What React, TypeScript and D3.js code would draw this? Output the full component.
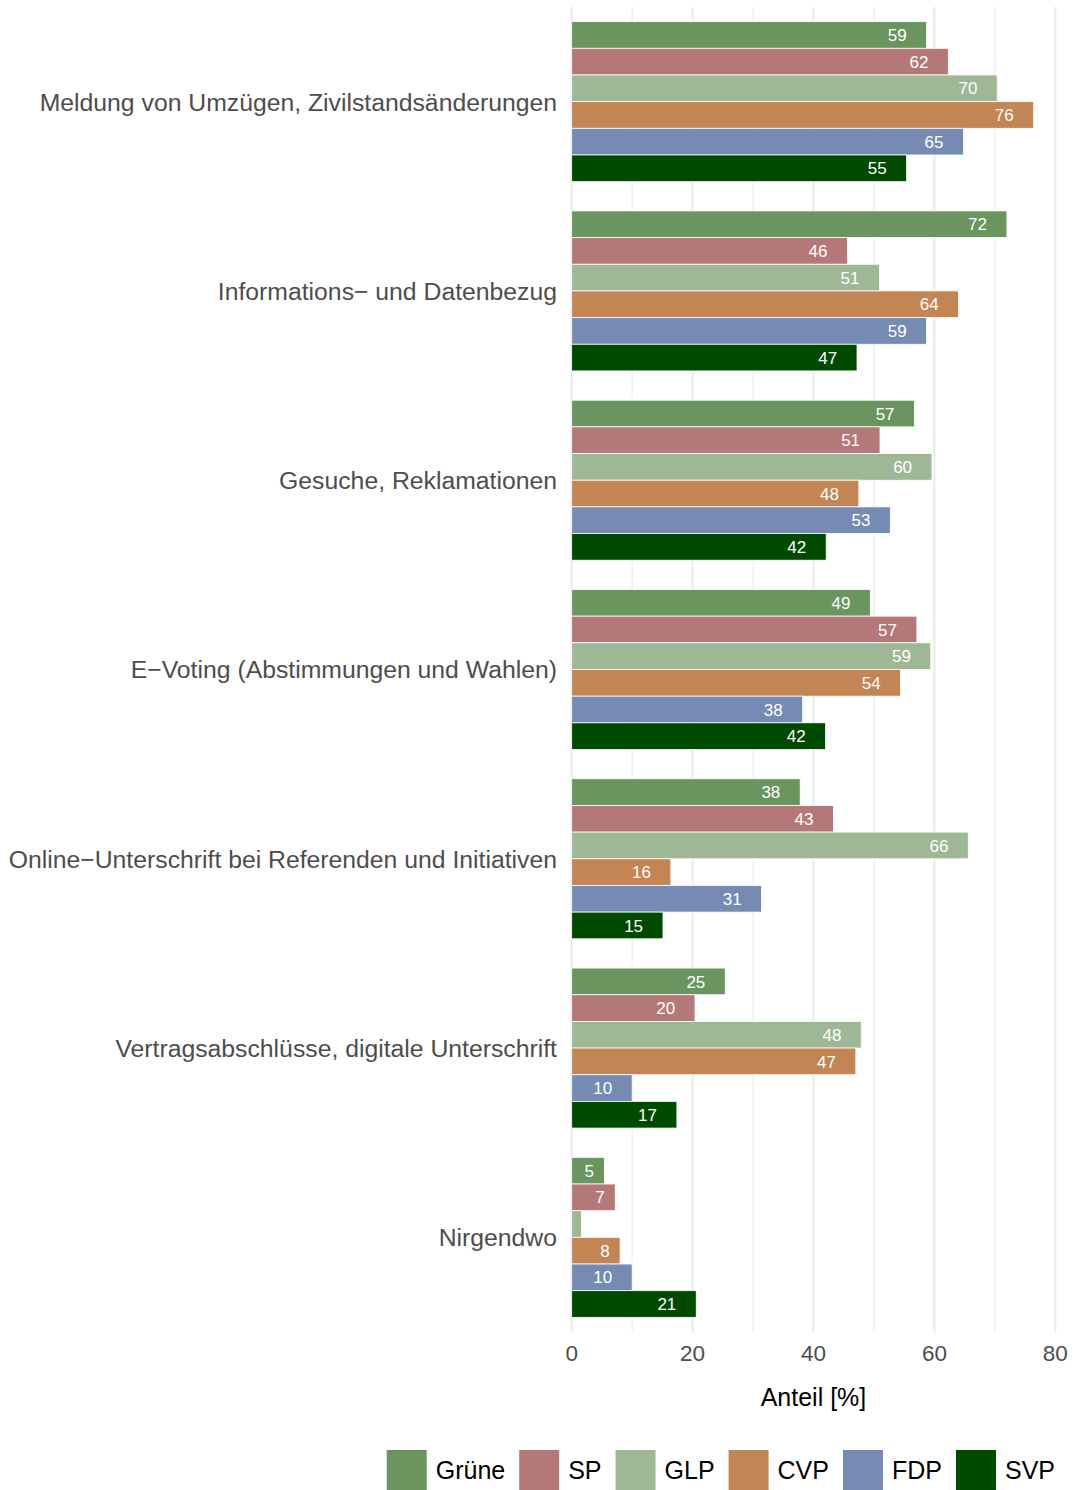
import * as d3 from 'd3';

const categories = [
  'Meldung von Umzügen, Zivilstandsänderungen',
  'Informations\u2212 und Datenbezug',
  'Gesuche, Reklamationen',
  'E\u2212Voting (Abstimmungen und Wahlen)',
  'Online\u2212Unterschrift bei Referenden und Initiativen',
  'Vertragsabschlüsse, digitale Unterschrift',
  'Nirgendwo',
];

const parties = ['Grüne', 'SP', 'GLP', 'CVP', 'FDP', 'SVP'];
const partyColors = ['#6a955f', '#b57878', '#9eb896', '#c28553', '#758bb4', '#004a00'];

// Anteil [%] per Kategorie, Reihenfolge wie categories
const gruene = [58.7, 72.0, 56.7, 49.4, 37.8, 25.4, 5.4];
const sp = [62.3, 45.6, 51.0, 57.1, 43.3, 20.4, 7.2];
const glp = [70.4, 50.9, 59.6, 59.4, 65.6, 47.9, 1.6];
const cvp = [76.4, 64.0, 47.5, 54.4, 16.4, 47.0, 8.0];
const fdp = [64.8, 58.7, 52.7, 38.2, 31.4, 10.0, 10.0];
const svp = [55.4, 47.2, 42.1, 42.0, 15.1, 17.4, 20.6];

const seriesValues = [gruene, sp, glp, cvp, fdp, svp];
const xTicks = [0, 20, 40, 60, 80];
const xMinor = [10, 30, 50, 70];

const W = 1074;
const H = 1490;
const top = 7;
const bottom = 1332;
const font = "'Liberation Sans', Arial, Helvetica, sans-serif";

export default function App() {
  const x = d3.scaleLinear().domain([0, 80]).range([571.7, 1055.3]);
  const y = d3.scaleBand().domain(categories).range([top, bottom]).padding(0);
  const groupH = 160;
  const inner = d3
    .scaleBand()
    .domain(parties)
    .range([(y.bandwidth() - groupH) / 2, (y.bandwidth() + groupH) / 2]);

  const labelSize = 17;
  const digitW = labelSize * 0.556;

  // legend layout, right-aligned
  const legendSize = 25;
  const textW = (s: string) => {
    const canvas = document.createElement('canvas');
    const ctx = canvas.getContext('2d');
    if (!ctx) return s.length * 14;
    ctx.font = `${legendSize}px 'Liberation Sans'`;
    return ctx.measureText(s).width;
  };
  const textWs = parties.map(textW);
  const keyW = 40;
  const keyGap = 9;
  const itemGap = 14;
  const totalW = textWs.reduce((a, w) => a + keyW + keyGap + w, 0) + itemGap * (parties.length - 1);
  let lx = 1055 - totalW;
  const legendItems = parties.map((p, i) => {
    const item = { p, x: lx, color: partyColors[i] };
    lx += keyW + keyGap + textWs[i] + itemGap;
    return item;
  });

  return (
    <svg width={W} height={H} style={{ position: 'absolute', left: 0, top: 0, background: '#fff' }} fontFamily={font}>
      {xMinor.map((t) => (
        <line key={'m' + t} x1={x(t)} x2={x(t)} y1={top} y2={bottom} stroke="#ebebeb" strokeWidth={1.1} />
      ))}
      {xTicks.map((t) => (
        <line key={'g' + t} x1={x(t)} x2={x(t)} y1={top} y2={bottom} stroke="#ebebeb" strokeWidth={2.1} />
      ))}
      {categories.map((c, ci) => (
        <g key={c} transform={`translate(0,${y(c)})`}>
          {parties.map((p, pi) => {
            const v = seriesValues[pi][ci];
            const by = inner(p) as number;
            const xe = x(v);
            const lbl = String(Math.round(v));
            return (
              <g key={p}>
                <rect
                  x={x(0)}
                  y={by}
                  width={xe - x(0)}
                  height={inner.bandwidth()}
                  fill={partyColors[pi]}
                  stroke="#fff"
                  strokeWidth={0.8}
                />
                {v >= 3 && (
                  <text
                    x={xe - lbl.length * digitW - 1}
                    y={by + inner.bandwidth() / 2}
                    dy="0.36em"
                    textAnchor="end"
                    fill="#fff"
                    fontSize={labelSize}
                  >
                    {lbl}
                  </text>
                )}
              </g>
            );
          })}
          <text x={557} y={y.bandwidth() / 2} dy="0.36em" textAnchor="end" fill="#4d4d4d" fontSize={24.75}>
            {c}
          </text>
        </g>
      ))}
      {xTicks.map((t) => (
        <text key={'t' + t} x={x(t)} y={1353} dy="0.36em" textAnchor="middle" fill="#4d4d4d" fontSize={22.5}>
          {t}
        </text>
      ))}
      <text x={x(40)} y={1397} dy="0.36em" textAnchor="middle" fill="#000" fontSize={25}>
        Anteil [%]
      </text>
      {legendItems.map((it) => (
        <g key={it.p}>
          <rect x={it.x} y={1450} width={keyW} height={40} fill={it.color} />
          <text x={it.x + keyW + keyGap} y={1470} dy="0.36em" fill="#000" fontSize={legendSize}>
            {it.p}
          </text>
        </g>
      ))}
    </svg>
  );
}
